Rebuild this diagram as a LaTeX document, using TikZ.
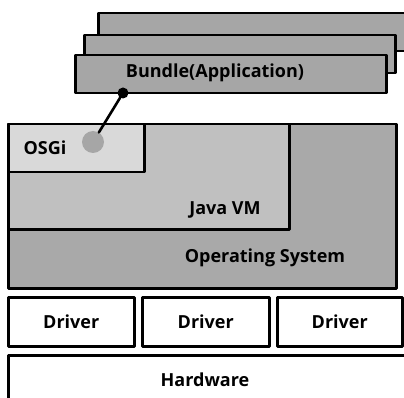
\documentclass[tikz,border=0pt]{standalone}
\usepackage{fontspec}
\setmainfont{Open Sans}
\usetikzlibrary{positioning}

\definecolor{bundlegray}{HTML}{A6A6A6}
\definecolor{osgray}{HTML}{A9A9A9}
\definecolor{vmgray}{HTML}{C0C0C0}
\definecolor{osgigray}{HTML}{D9D9D9}

\tikzset{
  layer/.style={draw=black, line width=2.5pt, anchor=north west, inner sep=0pt},
  lbl/.style={font=\bfseries\fontsize{18}{20}\selectfont, inner sep=0pt}
}

\begin{document}
\begin{tikzpicture}[x=1pt, y=-1pt, line cap=round, line join=round]
  \useasboundingbox (0,0) rectangle (404,398);
  \clip (0,0) rectangle (404,398);

  %--- bundle stack ---------------------------------------------------------
  \node[layer, fill=bundlegray, minimum width=320pt, minimum height=38pt] (bundleC) at (97,12) {};
  \node[layer, fill=bundlegray, minimum width=311pt, minimum height=38pt] (bundleB) at (83,34) {};
  \node[layer, fill=bundlegray, minimum width=311pt, minimum height=38pt] (bundleA) at (74,54) {};
  \node[lbl] (bundletxt) at (215,73) {Bundle(Application)};

  %--- platform layers ------------------------------------------------------
  \node[layer, fill=osgray, minimum width=388pt, minimum height=164pt] (os) at (7,123) {};
  \node[layer, fill=vmgray, minimum width=281pt, minimum height=105pt] (vm) at (7,123) {};
  \node[layer, fill=osgigray, minimum width=136pt, minimum height=48pt] (osgi) at (7,123) {};

  \node[lbl] (ostxt) at (265,258) {Operating System};
  \node[lbl] (vmtxt) at (225,210) {Java VM};
  \node[lbl] (osgitxt) at (45,148) {OSGi};

  %--- OSGi link to bundle --------------------------------------------------
  \node[circle, fill=bundlegray, minimum size=22pt, inner sep=0pt] (port) at (93,142) {};
  \node[circle, fill=black, minimum size=11pt, inner sep=0pt] (plug) at (123,93) {};
  \draw[line width=2.6pt] (plug) -- (port);

  %--- drivers --------------------------------------------------------------
  \node[layer, fill=white, minimum width=126pt, minimum height=49pt] (drv1) at (7,296) {};
  \node[layer, fill=white, minimum width=127pt, minimum height=49pt] (drv2) at (141,296) {};
  \node[layer, fill=white, minimum width=125pt, minimum height=49pt] (drv3) at (276,296) {};
  \node[lbl] (drv1txt) at (drv1.center) {Driver};
  \node[lbl] (drv2txt) at (drv2.center) {Driver};
  \node[lbl] (drv3txt) at (drv3.center) {Driver};

  %--- hardware -------------------------------------------------------------
  \node[layer, fill=white, minimum width=420pt, minimum height=70pt] (hw) at (7,354) {};
  \node[lbl] (hwtxt) at (205,380) {Hardware};
\end{tikzpicture}
\end{document}
